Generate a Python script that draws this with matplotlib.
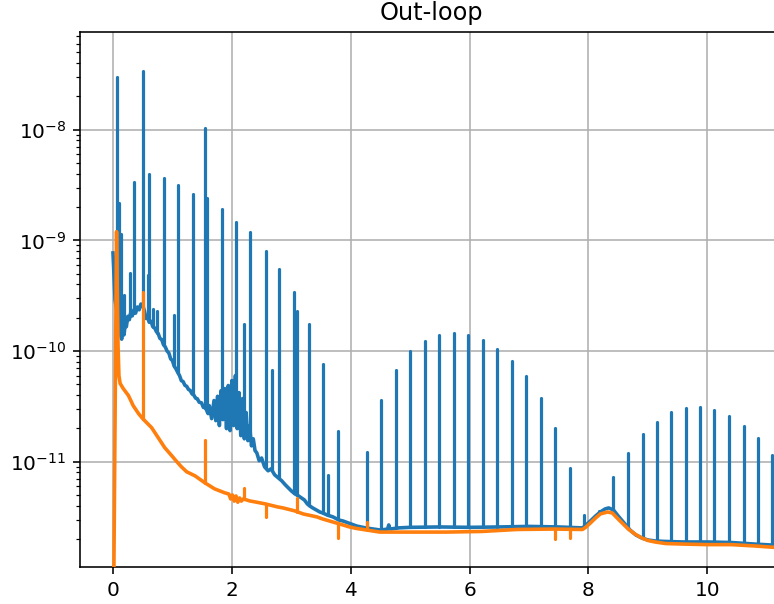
import numpy as np
import matplotlib
matplotlib.use("Agg")
import matplotlib.pyplot as plt

# Continuous floor of the blue trace (frequency, amplitude)
blue_base_x = [0.000, 0.035, 0.090, 0.120, 0.146, 0.165, 0.185, 0.205, 0.225, 0.250,
               0.275, 0.300, 0.325, 0.350, 0.380, 0.410, 0.440, 0.470, 0.500, 0.530,
               0.555, 0.580, 0.610, 0.640, 0.670, 0.700, 0.730, 0.760, 0.790, 0.820,
               0.850, 0.880, 0.910, 0.940, 0.970, 1.000, 1.030, 1.060, 1.090, 1.120,
               1.150, 1.180, 1.210, 1.240, 1.270, 1.300, 1.330, 1.360, 1.390, 1.420,
               1.450, 1.490, 1.520, 1.560, 1.600, 1.620, 1.660, 1.700, 1.730, 1.760,
               1.790, 1.820, 1.850, 1.880, 1.910, 1.940, 1.970, 2.000, 2.030, 2.060,
               2.090, 2.120, 2.150, 2.180, 2.210, 2.240, 2.270, 2.300, 2.330, 2.360,
               2.390, 2.420, 2.460, 2.500, 2.550, 2.610, 2.660, 2.720, 2.780, 2.840,
               2.900, 2.950, 3.000, 3.060, 3.120, 3.170, 3.220, 3.270, 3.310, 3.360,
               3.420, 3.480, 3.530, 3.600, 3.700, 3.800, 3.870, 4.000, 4.100, 4.250,
               4.380, 4.500, 4.620, 4.640, 4.660, 4.800, 5.000, 5.500, 6.000, 6.500,
               7.000, 7.500, 7.900, 7.960, 8.050, 8.120, 8.200, 8.280, 8.340, 8.420,
               8.500, 8.600, 8.700, 8.800, 8.900, 9.000, 9.120, 9.300, 9.600, 10.000,
               10.400, 10.800, 11.200]
blue_base_y = [7.7e-10, 2.9e-10, 1.9e-10, 1.45e-10, 1.28e-10, 1.50e-10, 1.40e-10, 1.78e-10, 1.66e-10, 2.06e-10,
               1.92e-10, 2.25e-10, 2.08e-10, 2.35e-10, 2.20e-10, 2.50e-10, 2.36e-10, 2.66e-10, 2.60e-10, 2.30e-10,
               1.97e-10, 2.02e-10, 1.82e-10, 1.86e-10, 1.66e-10, 1.62e-10, 1.50e-10, 1.44e-10, 1.30e-10, 1.27e-10,
               1.14e-10, 1.09e-10, 1.00e-10, 9.6e-11, 8.5e-11, 8.2e-11, 7.3e-11, 6.9e-11, 6.4e-11, 6.0e-11,
               5.4e-11, 5.3e-11, 4.9e-11, 4.8e-11, 4.5e-11, 4.4e-11, 4.1e-11, 4.0e-11, 3.75e-11, 3.7e-11,
               3.45e-11, 3.40e-11, 3.1e-11, 3.05e-11, 2.72e-11, 3.21e-11, 2.45e-11, 3.57e-11, 2.35e-11, 3.9e-11,
               2.12e-11, 4.39e-11, 2.4e-11, 4.58e-11, 1.99e-11, 4.88e-11, 1.91e-11, 5.41e-11, 2.12e-11, 6.01e-11,
               1.99e-11, 4.21e-11, 1.72e-11, 3.72e-11, 1.61e-11, 2.78e-11, 1.55e-11, 2.12e-11, 1.39e-11, 1.61e-11,
               1.26e-11, 1.20e-11, 1.02e-11, 1.08e-11, 8.99e-12, 8.27e-12, 8.62e-12, 7.61e-12, 7.14e-12, 6.71e-12,
               6.17e-12, 5.80e-12, 5.45e-12, 5.12e-12, 4.91e-12, 4.71e-12, 4.51e-12, 4.15e-12, 3.98e-12, 3.82e-12,
               3.66e-12, 3.51e-12, 3.44e-12, 3.30e-12, 3.17e-12, 2.97e-12, 2.91e-12, 2.74e-12, 2.62e-12, 2.52e-12,
               2.46e-12, 2.41e-12, 2.46e-12, 2.68e-12, 2.46e-12, 2.52e-12, 2.55e-12, 2.57e-12, 2.55e-12, 2.57e-12,
               2.60e-12, 2.57e-12, 2.52e-12, 2.68e-12, 2.97e-12, 3.23e-12, 3.51e-12, 3.74e-12, 3.82e-12, 3.66e-12,
               3.23e-12, 2.79e-12, 2.41e-12, 2.17e-12, 2.04e-12, 1.96e-12, 1.92e-12, 1.90e-12, 1.88e-12, 1.88e-12,
               1.86e-12, 1.80e-12, 1.75e-12]

# Narrow lines of the blue trace (frequency, peak amplitude)
blue_peak_x = [0.062, 0.106, 0.140, 0.190, 0.290, 0.360, 0.510, 0.583, 0.605, 0.677,
               0.745, 0.852, 1.030, 1.098, 1.345, 1.546, 1.585, 1.832, 2.070, 2.200,
               2.310, 2.566, 2.670, 2.790, 3.050, 3.090, 3.290, 3.540, 3.610, 3.780,
               4.270, 4.515, 4.756, 5.000, 5.250, 5.490, 5.730, 5.980, 6.220, 6.465,
               6.710, 6.950, 7.200, 7.445, 7.686, 7.930, 8.170, 8.420, 8.660, 8.910,
               9.150, 9.395, 9.635, 9.880, 10.120, 10.370, 10.610, 10.850, 11.090]
blue_peak_y = [2.98e-8, 2.18e-9, 1.14e-9, 3.2e-10, 5.1e-10, 3.4e-9, 3.37e-8, 4.9e-10, 4.0e-9, 2.4e-10,
               2.3e-10, 3.7e-9, 2.1e-10, 3.2e-9, 2.6e-9, 1.03e-8, 2.4e-9, 1.92e-9, 1.46e-9, 1.74e-10,
               1.2e-9, 8.1e-10, 6.7e-11, 5.5e-10, 3.4e-10, 2.3e-10, 1.77e-10, 7.6e-11, 7.6e-12, 1.9e-11,
               1.23e-11, 3.6e-11, 6.7e-11, 1.0e-10, 1.24e-10, 1.41e-10, 1.45e-10, 1.41e-10, 1.25e-10, 1.05e-10,
               8.2e-11, 5.9e-11, 3.8e-11, 2.0e-11, 8.7e-12, 3.3e-12, 3.6e-12, 7.2e-12, 1.2e-11, 1.78e-11,
               2.3e-11, 2.8e-11, 3.06e-11, 3.15e-11, 2.96e-11, 2.6e-11, 2.1e-11, 1.64e-11, 1.16e-11]

# Orange trace floor (frequency, amplitude)
orange_base_x = [0.000, 0.060, 0.085, 0.100, 0.120, 0.170, 0.260, 0.340, 0.430, 0.500,
                 0.550, 0.650, 0.760, 0.870, 0.990, 1.060, 1.150, 1.240, 1.380, 1.546,
                 1.710, 1.880, 1.950, 1.980, 2.010, 2.040, 2.070, 2.100, 2.130, 2.160,
                 2.190, 2.250, 2.300, 2.390, 2.566, 2.770, 2.860, 3.060, 3.200, 3.430,
                 3.530, 3.810, 3.980, 4.100, 4.270, 4.490, 4.770, 5.100, 5.600, 6.200,
                 6.800, 7.400, 7.900, 7.960, 8.050, 8.120, 8.200, 8.320, 8.400, 8.500,
                 8.600, 8.670, 8.780, 8.900, 9.000, 9.120, 9.300, 9.600, 10.000, 10.400,
                 10.800, 11.200]
orange_base_y = [1.0e-13, 1.2e-9, 1.12e-10, 6.0e-11, 5.1e-11, 4.6e-11, 3.96e-11, 3.21e-11, 2.72e-11, 2.45e-11,
                 2.30e-11, 2.03e-11, 1.65e-11, 1.34e-11, 1.13e-11, 1.02e-11, 9.0e-12, 8.1e-12, 7.45e-12, 6.44e-12,
                 5.68e-12, 5.23e-12, 5.1e-12, 4.6e-12, 5.0e-12, 4.4e-12, 4.9e-12, 4.3e-12, 4.7e-12, 4.4e-12,
                 4.6e-12, 4.51e-12, 4.42e-12, 4.33e-12, 4.15e-12, 3.90e-12, 3.82e-12, 3.59e-12, 3.37e-12, 3.17e-12,
                 3.03e-12, 2.74e-12, 2.57e-12, 2.49e-12, 2.41e-12, 2.31e-12, 2.31e-12, 2.31e-12, 2.31e-12, 2.34e-12,
                 2.44e-12, 2.46e-12, 2.44e-12, 2.57e-12, 2.85e-12, 3.10e-12, 3.37e-12, 3.51e-12, 3.44e-12, 3.03e-12,
                 2.68e-12, 2.46e-12, 2.22e-12, 2.04e-12, 1.94e-12, 1.88e-12, 1.82e-12, 1.80e-12, 1.78e-12, 1.78e-12,
                 1.73e-12, 1.67e-12]

# Narrow features of the orange trace (upward and downward)
orange_peak_x = [0.510, 1.546, 2.210, 2.566, 3.090, 3.780, 4.270, 7.445, 7.686]
orange_peak_y = [3.4e-10, 1.58e-11, 5.8e-12, 3.15e-12, 4.7e-12, 2.04e-12, 2.85e-12, 2.0e-12, 2.05e-12]

x_ticks = [0, 2, 4, 6, 8, 10]
title = "Out-loop"

BLUE = "#1f77b4"
ORANGE = "#ff7f0e"
LW_LINE = 1.8
LW_PEAK = 1.6


def floor_at(px, bx, by):
    # level of the continuous trace beneath each narrow line (log-linear)
    return 10 ** np.interp(px, bx, np.log10(by))


fig = plt.figure(figsize=(774 / 144, 604 / 144), dpi=144)
ax = fig.add_axes([80 / 774, 37 / 604, 702 / 774, 535 / 604])

ax.vlines(blue_peak_x, floor_at(blue_peak_x, blue_base_x, blue_base_y), blue_peak_y,
          colors=BLUE, linewidth=LW_PEAK, capstyle="round", zorder=2)
ax.plot(blue_base_x, blue_base_y, color=BLUE, linewidth=LW_LINE, zorder=2)
ax.vlines(orange_peak_x, floor_at(orange_peak_x, orange_base_x, orange_base_y), orange_peak_y,
          colors=ORANGE, linewidth=LW_PEAK, capstyle="round", zorder=3)
ax.plot(orange_base_x, orange_base_y, color=ORANGE, linewidth=LW_LINE, zorder=3)

ax.set_yscale("log")
ax.set_xlim(-0.555, 11.256)
ax.set_ylim(1.117e-12, 7.65e-8)
ax.set_xticks(x_ticks)
ax.grid(True, which="major")
ax.set_title(title)

fig.savefig("out.png", dpi=144)
